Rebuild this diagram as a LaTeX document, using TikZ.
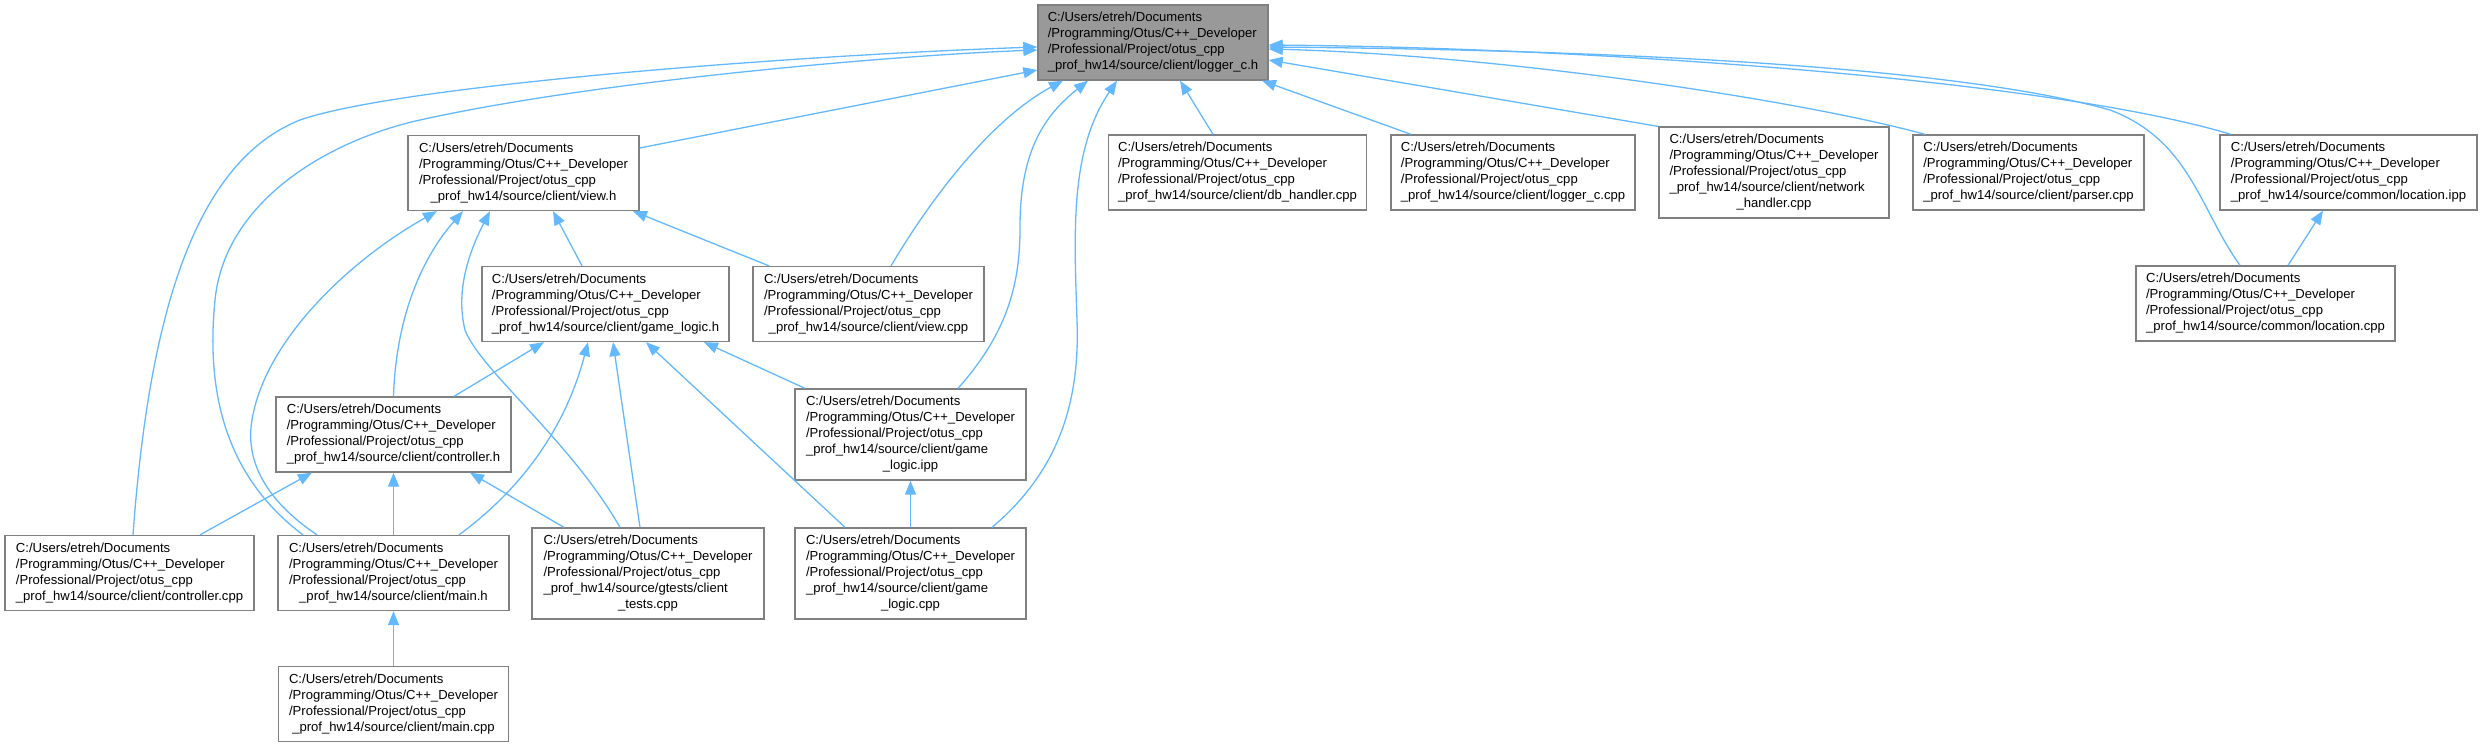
\documentclass[tikz,border=0pt]{standalone}
\usepackage{fontspec}
\setmainfont{Liberation Sans}
\usepackage{tikz}
\usetikzlibrary{arrows.meta}
\definecolor{edgeblue}{HTML}{63B8FF}
\definecolor{boxgray}{HTML}{808080}
\definecolor{rootgray}{HTML}{999999}
\newcommand{\dirhead}{C:/Users/etreh/Documents\\/Programming/Otus/C++\_Developer\\/Professional/Project/otus\_cpp}
\newcommand{\fpath}[2]{\begin{tabular}{@{}l@{}}#1\\\multicolumn{1}{@{}c@{}}{#2}\end{tabular}}

\begin{document}
\begin{tikzpicture}[x=1pt, y=-1pt,
    file/.style={draw=boxgray, line width=1.3pt, fill=white, inner sep=0pt, minimum height=75pt, font=\fontsize{13.1}{16}\selectfont},
    long/.style={file, minimum height=91pt},
    root/.style={file, fill=rootgray},
    inc/.style={-{Triangle[length=14pt,width=11pt]}, edgeblue, line width=1.3pt}
]
\useasboundingbox (0,0) rectangle (2481,747);

\node[root, minimum width=230] (LH) at (1153,42.5) {\fpath{\dirhead}{\_prof\_hw14/source/client/logger\_c.h}};
\node[file, minimum width=231] (VH) at (523.5,173) {\fpath{\dirhead}{\_prof\_hw14/source/client/view.h}};
\node[file, minimum width=247] (GH) at (605.5,304) {\fpath{\dirhead}{\_prof\_hw14/source/client/game\_logic.h}};
\node[file, minimum width=231] (VC) at (868.5,304) {\fpath{\dirhead}{\_prof\_hw14/source/client/view.cpp}};
\node[file, minimum width=235] (CH) at (393.5,434.5) {\fpath{\dirhead}{\_prof\_hw14/source/client/controller.h}};
\node[file, minimum width=249] (CC) at (129.5,573) {\fpath{\dirhead}{\_prof\_hw14/source/client/controller.cpp}};
\node[file, minimum width=231] (MH) at (393.5,573) {\fpath{\dirhead}{\_prof\_hw14/source/client/main.h}};
\node[file, minimum width=230] (MC) at (393.5,704) {\fpath{\dirhead}{\_prof\_hw14/source/client/main.cpp}};
\node[long, minimum width=232] (CT) at (648,573.5) {\fpath{\dirhead\\\_prof\_hw14/source/gtests/client}{\_tests.cpp}};
\node[long, minimum width=231] (GI) at (910.5,434.5) {\fpath{\dirhead\\\_prof\_hw14/source/client/game}{\_logic.ipp}};
\node[long, minimum width=231] (GC) at (910.5,573.5) {\fpath{\dirhead\\\_prof\_hw14/source/client/game}{\_logic.cpp}};
\node[file, minimum width=258] (DB) at (1237.5,172.5) {\fpath{\dirhead}{\_prof\_hw14/source/client/db\_handler.cpp}};
\node[file, minimum width=244] (LC) at (1513,172.5) {\fpath{\dirhead}{\_prof\_hw14/source/client/logger\_c.cpp}};
\node[long, minimum width=230] (NH) at (1774,172.5) {\fpath{\dirhead\\\_prof\_hw14/source/client/network}{\_handler.cpp}};
\node[file, minimum width=231] (PC) at (2028.5,172.5) {\fpath{\dirhead}{\_prof\_hw14/source/client/parser.cpp}};
\node[file, minimum width=257] (LI) at (2348.5,172.5) {\fpath{\dirhead}{\_prof\_hw14/source/common/location.ipp}};
\node[file, minimum width=259] (LP) at (2265.5,303.5) {\fpath{\dirhead}{\_prof\_hw14/source/common/location.cpp}};

\draw[inc] ([xshift=3.5pt]CC.north) .. controls (150,300) and (200,160) .. (300,120) .. controls (400,85) and (800,55) .. ([yshift=-4.5pt]LH.west);
\draw[inc] ([xshift=-90.5pt]MH.north) .. controls (230,480) and (205,400) .. (215,300) .. controls (225,200) and (330,140) .. (420,120) .. controls (600,80) and (900,55) .. ([yshift=-7.5pt]LH.west);
\draw[inc] ([yshift=25pt]VH.east) -- ([yshift=-27.5pt]LH.west);
\draw[inc] ([xshift=22.5pt]VC.north) .. controls (930,200) and (990,120) .. ([xshift=-90pt]LH.south);
\draw[inc] ([xshift=47.5pt]GI.north) .. controls (1010,330) and (1020,280) .. (1020,227) .. controls (1020,150) and (1045,115) .. ([xshift=-65pt]LH.south);
\draw[inc] ([xshift=81.5pt]GC.north) .. controls (1060,470) and (1080,400) .. (1077,320) .. controls (1074,230) and (1070,150) .. ([xshift=-36pt]LH.south);
\draw[inc] ([xshift=-24.5pt]DB.north) -- ([xshift=27pt]LH.south);
\draw[inc] ([xshift=-102pt]LC.north) -- ([xshift=109pt]LH.south);
\draw[inc] ([xshift=-116pt]NH.north) -- ([yshift=-17.5pt]LH.east);
\draw[inc] ([xshift=-103.5pt]PC.north) .. controls (1800,100) and (1500,55) .. ([yshift=-6.5pt]LH.east);
\draw[inc] ([xshift=-117.5pt]LI.north) .. controls (2050,80) and (1600,48) .. ([yshift=-2.5pt]LH.east);
\draw[inc] ([xshift=-25.5pt]LP.north) .. controls (2200,210) and (2190,140) .. (2110,110) .. controls (1950,65) and (1600,50) .. ([yshift=-4.5pt]LH.east);

\draw[inc] ([xshift=-76.5pt]MH.north) .. controls (265,500) and (245,460) .. (252,420) .. controls (265,340) and (350,260) .. ([xshift=-86.5pt]VH.south);
\draw[inc] (CH.north) .. controls (396,320) and (420,260) .. ([xshift=-60.5pt]VH.south);
\draw[inc] ([xshift=-28pt]CT.north) .. controls (570,440) and (480,370) .. (465,330) .. controls (455,290) and (470,250) .. ([xshift=-33.5pt]VH.south);
\draw[inc] ([xshift=-23.5pt]GH.north) -- ([xshift=29.5pt]VH.south);
\draw[inc] ([xshift=-99.5pt]VC.north) -- ([xshift=109.5pt]VH.south);

\draw[inc] ([xshift=60.5pt]CH.north) -- ([xshift=-61.5pt]GH.south);
\draw[inc] ([xshift=65.5pt]MH.north) .. controls (520,490) and (565,430) .. ([xshift=-17.5pt]GH.south);
\draw[inc] ([xshift=-8pt]CT.north) -- ([xshift=7.5pt]GH.south);
\draw[inc] ([xshift=-65.5pt]GC.north) -- ([xshift=40.5pt]GH.south);
\draw[inc] ([xshift=-105.5pt]GI.north) -- ([xshift=98.5pt]GH.south);

\draw[inc] ([xshift=70.5pt]CC.north) -- ([xshift=-81.5pt]CH.south);
\draw[inc] (MH.north) -- (CH.south);
\draw[inc] ([xshift=-84pt]CT.north) -- ([xshift=76.5pt]CH.south);
\draw[inc] (MC.north) -- (MH.south);
\draw[inc] (GC.north) -- (GI.south);
\draw[inc] ([xshift=22.5pt]LP.north) -- ([xshift=-25.5pt]LI.south);
\end{tikzpicture}
\end{document}
